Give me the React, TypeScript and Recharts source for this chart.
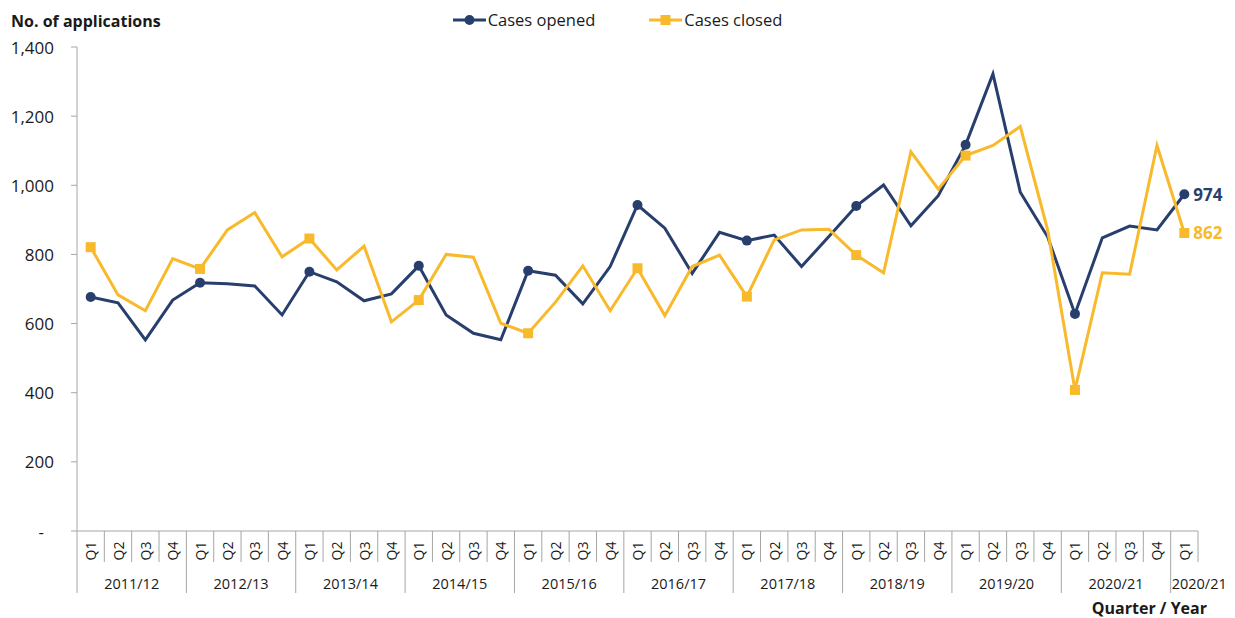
import React from "react";
import { LineChart, Line, XAxis, YAxis, Legend, Label } from "recharts";

// quarter / year groups along the x axis
const years = [
  "2011/12", "2012/13", "2013/14", "2014/15", "2015/16",
  "2016/17", "2017/18", "2018/19", "2019/20", "2020/21", "2020/21",
];
const quartersPerYear = [4, 4, 4, 4, 4, 4, 4, 4, 4, 4, 1];
const quarterNames = ["Q1", "Q2", "Q3", "Q4"];

const casesOpened = [
  677, 660, 553, 668, 718, 715, 709, 625,
  750, 721, 666, 686, 767, 625, 572, 553,
  753, 740, 657, 765, 943, 876, 745, 864,
  840, 856, 765, 852, 940, 1001, 883, 970,
  1117, 1322, 980, 851, 628, 848, 882, 871,
  974,
];
const casesClosed = [
  821, 683, 637, 788, 758, 871, 921, 793,
  846, 755, 824, 605, 668, 800, 792, 601,
  572, 662, 767, 637, 760, 623, 765, 798,
  678, 842, 871, 873, 798, 747, 1097, 989,
  1086, 1115, 1170, 871, 408, 747, 743, 1115,
  862,
];
const yTicks = [0, 200, 400, 600, 800, 1000, 1200, 1400];

const NAVY = "#283F6E";
const GOLD = "#F8B92B";
const AXIS = "#A6A6A6";
const TEXT = "#1a1a1a";
const FONT = "'Open Sans', sans-serif";

const WIDTH = 1235;
const HEIGHT = 618;
const MARGIN = { top: 47, right: 37, bottom: 0, left: 17 };
const Y_AXIS_W = 60;
const PLOT_W = WIDTH - MARGIN.left - MARGIN.right - Y_AXIS_W;

type Row = {
  idx: number;
  q: string;
  year: string;
  qi: number;
  groupLen: number;
  opened: number;
  closed: number;
};

const data: Row[] = [];
years.forEach((year, g) => {
  for (let k = 0; k < quartersPerYear[g]; k++) {
    const idx = data.length;
    data.push({
      idx,
      q: quarterNames[k],
      year,
      qi: k,
      groupLen: quartersPerYear[g],
      opened: casesOpened[idx],
      closed: casesClosed[idx],
    });
  }
});

const BW = PLOT_W / data.length;
const LAST = data.length - 1;

const QuarterTick = (props: any) => {
  const { x, y, payload } = props;
  const row = data[Number(payload.value)];
  if (!row) return <g />;
  const left = x - BW / 2;
  const groupStart = row.qi === 0;
  // a one-quarter group is too narrow, so its year runs on past the axis end
  const single = row.groupLen === 1;
  return (
    <g>
      <line x1={left} x2={left} y1={y} y2={y + (groupStart ? 62 : 31)} stroke={AXIS} strokeWidth={1} />
      {row.idx === LAST && (
        <line x1={x + BW / 2} x2={x + BW / 2} y1={y} y2={y + 31} stroke={AXIS} strokeWidth={1} />
      )}
      <text
        transform={`translate(${x},${y + 20}) rotate(-90)`}
        textAnchor="middle"
        dominantBaseline="central"
        fontFamily={FONT}
        fontSize={14}
        fill={TEXT}
      >
        {row.q}
      </text>
      {groupStart && (
        <text
          x={single ? left + 1 : left + (row.groupLen * BW) / 2}
          y={y + 52}
          textAnchor={single ? "start" : "middle"}
          dominantBaseline="central"
          fontFamily={FONT}
          fontSize={14.5}
          fill={TEXT}
        >
          {row.year}
        </text>
      )}
    </g>
  );
};

const ValueTick = (props: any) => {
  const { x, y, payload } = props;
  const v = Number(payload.value);
  return (
    <text
      x={v === 0 ? x - 10 : x}
      y={y}
      textAnchor="end"
      dominantBaseline="central"
      fontFamily={FONT}
      fontSize={17}
      fill={TEXT}
    >
      {v === 0 ? "-" : v.toLocaleString("en-US")}
    </text>
  );
};

const openedDot = (p: any) =>
  p.index % 4 === 0 ? (
    <circle key={`o${p.index}`} cx={p.cx} cy={p.cy} r={5} fill={NAVY} />
  ) : (
    <g key={`o${p.index}`} />
  );

const closedDot = (p: any) =>
  p.index % 4 === 0 ? (
    <rect key={`c${p.index}`} x={p.cx - 5} y={p.cy - 5} width={10} height={10} fill={GOLD} />
  ) : (
    <g key={`c${p.index}`} />
  );

const endLabel = (color: string) => (p: any) =>
  p.index === LAST ? (
    <text
      key={`l${color}`}
      x={p.x + 9}
      y={p.y}
      dominantBaseline="central"
      fontFamily={FONT}
      fontWeight={700}
      fontSize={17}
      fill={color}
    >
      {p.value}
    </text>
  ) : (
    <g key={`l${color}${p.index}`} />
  );

const LegendItem = ({ color, square, text }: { color: string; square?: boolean; text: string }) => (
  <div style={{ display: "flex", alignItems: "center" }}>
    <svg width={33} height={14}>
      <line x1={0} x2={33} y1={7} y2={7} stroke={color} strokeWidth={3} />
      {square ? (
        <rect x={11.5} y={2} width={10} height={10} fill={color} />
      ) : (
        <circle cx={16.5} cy={7} r={5} fill={color} />
      )}
    </svg>
    <span style={{ marginLeft: 2 }}>{text}</span>
  </div>
);

const renderLegend = () => (
  <div
    style={{
      display: "flex",
      justifyContent: "center",
      gap: 54,
      fontFamily: FONT,
      fontSize: 16.5,
      color: TEXT,
      lineHeight: "22px",
    }}
  >
    <LegendItem color={NAVY} text="Cases opened" />
    <LegendItem color={GOLD} square text="Cases closed" />
  </div>
);

export default function App() {
  return (
    <div style={{ position: "absolute", left: 0, top: 0, width: WIDTH, height: HEIGHT, background: "#fff" }}>
      <LineChart width={WIDTH} height={HEIGHT} data={data} margin={MARGIN}>
        <XAxis
          dataKey="idx"
          type="category"
          interval={0}
          height={87}
          padding={{ left: BW / 2, right: BW / 2 }}
          tickSize={0}
          tickMargin={0}
          tickLine={false}
          stroke={AXIS}
          tick={QuarterTick}
        >
          <Label
            content={(p: any) => (
              <text
                x={p.viewBox.x + p.viewBox.width + 9}
                y={p.viewBox.y + 77}
                textAnchor="end"
                dominantBaseline="central"
                fontFamily={FONT}
                fontWeight={700}
                fontSize={16}
                fill={TEXT}
              >
                Quarter / Year
              </text>
            )}
          />
        </XAxis>
        <YAxis
          width={Y_AXIS_W}
          domain={[0, 1400]}
          ticks={yTicks}
          interval={0}
          tickSize={6}
          tickMargin={17}
          stroke={AXIS}
          tick={ValueTick}
        >
          <Label
            content={() => (
              <text x={11} y={21} dominantBaseline="central" fontFamily={FONT} fontWeight={700} fontSize={16} fill={TEXT}>
                No. of applications
              </text>
            )}
          />
        </YAxis>
        <Legend
          layout="horizontal"
          verticalAlign="middle"
          align="center"
          wrapperStyle={{ top: 9, left: 0, width: WIDTH }}
          content={renderLegend}
        />
        <Line
          dataKey="opened"
          name="Cases opened"
          stroke={NAVY}
          strokeWidth={3}
          dot={openedDot}
          activeDot={false}
          label={endLabel(NAVY)}
          isAnimationActive={false}
        />
        <Line
          dataKey="closed"
          name="Cases closed"
          stroke={GOLD}
          strokeWidth={3}
          dot={closedDot}
          activeDot={false}
          label={endLabel(GOLD)}
          isAnimationActive={false}
        />
      </LineChart>
    </div>
  );
}
